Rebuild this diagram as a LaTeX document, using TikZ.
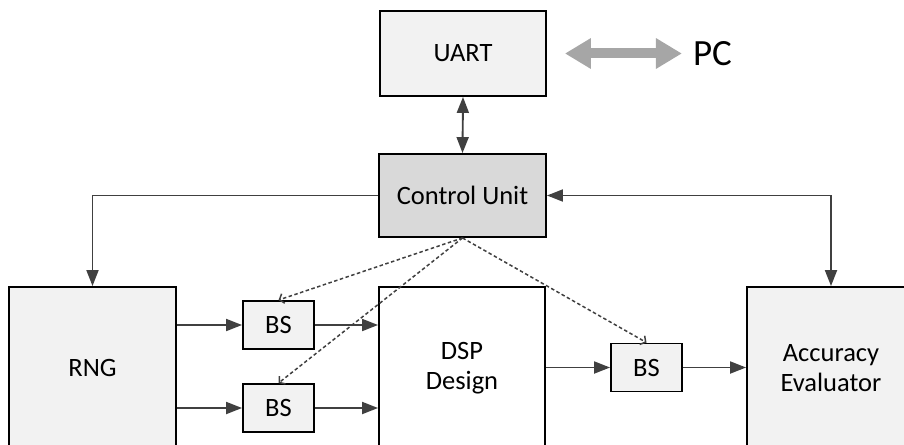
\documentclass[tikz,border=0pt]{standalone}
\usepackage{fontspec}
\setmainfont{Carlito}
\usetikzlibrary{arrows.meta,calc}
\definecolor{boxfill}{HTML}{F2F2F2}
\definecolor{ctrlfill}{HTML}{D9D9D9}
\definecolor{wire}{HTML}{404040}
\definecolor{linkgray}{HTML}{A6A6A6}
\tikzset{
  block/.style={draw=black, line width=1.9pt, fill=boxfill, inner sep=0pt,
    align=center, font=\fontsize{26.5}{30}\selectfont},
  bigblock/.style={block, minimum width=167pt, minimum height=162pt},
  bsblock/.style={block, minimum width=71pt, minimum height=48pt},
  sig/.style={draw=wire, line width=1.9pt, -{Triangle[length=16pt,width=12pt]}},
  sigboth/.style={draw=wire, line width=1.9pt,
    {Triangle[length=16pt,width=12pt]}-{Triangle[length=16pt,width=12pt]}},
  ctrl/.style={draw=wire, line width=1.5pt, dash pattern=on 3.5pt off 2.5pt,
    -{Straight Barb[length=4pt,width=10pt]}},
  pclink/.style={draw=linkgray, line width=10pt,
    {Triangle[length=26pt,width=29pt]}-{Triangle[length=26pt,width=29pt]}}
}
\begin{document}
\begin{tikzpicture}[x=1pt,y=-1pt]
  \useasboundingbox (0,0) rectangle (904,444);
  \clip (0,0) rectangle (904,444);

  % top row
  \node[block, minimum width=166pt, minimum height=85pt] (uart) at (463,53.5) {UART};
  \node[font=\fontsize{37}{40}\selectfont, inner sep=0pt] (pc) at (712.5,54) {PC};
  \node[block, fill=ctrlfill, minimum width=167pt, minimum height=83pt] (cu) at (462.5,195.5) {Control Unit};

  % main blocks
  \node[bigblock] (rng) at (92.5,368) {RNG};
  \node[bigblock, fill=white, minimum width=166pt] (dsp) at (462,368) {DSP\\Design};
  \node[bigblock, minimum width=168pt] (acc) at (831,368) {Accuracy\\Evaluator};

  % bitstream buffers
  \node[bsblock] (bs1) at (278.5,325) {BS};
  \node[bsblock] (bs2) at (278.5,408) {BS};
  \node[bsblock] (bs3) at (646.5,367.5) {BS};

  % host link
  \path[pclink, shorten <=18pt, shorten >=11pt] (uart.east) -- (uart.east -| pc.west);

  % control paths
  \draw[sigboth] (uart.south) -- (cu.north);
  \draw[sig] (cu.west) -| (rng.north);
  \draw[sigboth] (cu.east) -| (acc.north);

  % data paths
  \draw[sig] (bs1.west -| rng.east) -- (bs1.west);
  \draw[sig] (bs2.west -| rng.east) -- (bs2.west);
  \draw[sig] (bs1.east) -- (bs1.east -| dsp.west);
  \draw[sig] (bs2.east) -- (bs2.east -| dsp.west);
  \draw[sig] (bs3.west -| dsp.east) -- (bs3.west);
  \draw[sig] (bs3.east) -- (bs3.east -| acc.west);

  % buffer control
  \draw[ctrl] (cu.south) -- (bs1.north);
  \draw[ctrl] (cu.south) -- (bs2.north);
  \draw[ctrl] (cu.south) -- (bs3.north);
\end{tikzpicture}
\end{document}
